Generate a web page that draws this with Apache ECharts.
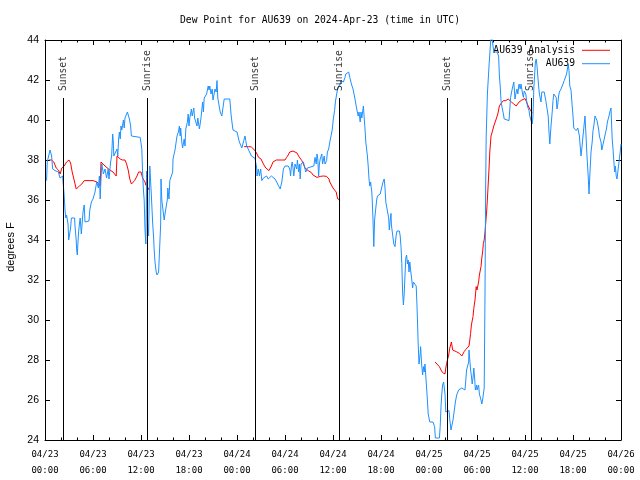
<!DOCTYPE html>
<html>
<head>
<meta charset="utf-8">
<script src="https://cdn.jsdelivr.net/npm/echarts@6/dist/echarts.min.js"></script>
<style>html,body{margin:0;padding:0;background:#fff}#c{width:640px;height:480px}</style>
</head>
<body>
<div id="c"></div>
<script>
// Hours since 2024-04-23 00:00 UTC
const blueHours = [0.2,0.28,0.42,0.63,0.75,0.83,0.96,1.25,1.67,1.88,2.08,2.2,2.38,2.5,2.6,2.7,2.88,2.96,3.1,3.2,3.3,3.7,3.75,3.9,3.96,4.04,4.1,4.2,4.3,4.4,4.54,4.6,4.75,4.9,5.0,5.2,5.5,5.6,5.8,6.0,6.25,6.46,6.67,6.8,6.9,7.0,7.1,7.3,7.5,7.7,7.9,8.0,8.2,8.33,8.46,8.54,8.6,8.75,9.0,9.1,9.2,9.3,9.4,9.5,9.6,9.8,9.9,10.0,10.2,10.3,10.46,10.55,10.7,10.8,11.0,11.9,12.0,12.1,12.2,12.3,12.4,12.5,12.6,12.66,12.7,12.8,12.95,13.1,13.3,13.45,13.58,13.65,13.75,13.9,14.0,14.2,14.4,14.46,14.5,14.6,14.9,15.0,15.1,15.2,15.3,15.35,15.5,15.6,15.8,15.96,16.0,16.25,16.4,16.5,16.67,16.8,16.9,16.96,17.1,17.2,17.4,17.5,17.6,17.8,17.9,18.0,18.1,18.3,18.4,18.6,18.7,18.9,19.0,19.1,19.3,19.4,19.5,19.7,19.8,19.9,20.1,20.2,20.4,20.5,20.6,20.75,20.9,21.0,21.1,21.25,21.4,21.5,21.6,21.75,21.9,22.1,22.3,22.4,23.1,23.25,23.4,23.5,23.7,24.0,24.2,24.3,24.5,24.6,24.8,25.0,25.1,25.2,25.4,25.6,25.8,26.0,26.25,26.46,26.5,26.67,26.8,26.96,27.1,27.3,27.5,27.7,27.9,28.1,28.3,28.5,28.75,28.96,29.2,29.4,29.6,29.8,30.0,30.2,30.4,30.6,30.7,30.8,30.9,31.0,31.1,31.25,31.46,31.55,31.7,31.8,31.9,32.0,32.1,32.3,32.5,32.6,32.8,32.9,33.6,33.75,33.9,34.0,34.1,34.2,34.3,34.4,34.6,34.7,34.9,35.0,35.2,35.3,35.46,35.6,35.75,35.9,36.04,36.2,36.3,36.46,36.6,36.7,36.9,37.0,37.1,37.3,37.5,37.6,37.8,37.96,38.1,38.3,38.5,38.75,38.9,39.04,39.15,39.25,39.4,39.5,39.6,39.8,39.9,40.0,40.1,40.2,40.3,40.4,40.5,40.6,40.7,40.8,40.85,40.9,41.0,41.1,41.2,41.3,41.46,41.55,41.6,41.9,42.25,42.4,42.5,42.6,42.75,42.96,43.04,43.15,43.25,43.3,43.46,43.6,43.75,43.9,44.0,44.3,44.4,44.5,44.6,44.7,44.8,44.9,45.0,45.1,45.2,45.3,45.4,45.5,45.6,45.7,45.85,45.95,46.05,46.2,46.4,46.5,46.65,46.75,46.9,46.95,47.08,47.2,47.3,47.4,47.5,47.6,47.8,47.9,48.1,48.5,48.7,48.8,49.3,49.4,49.5,49.6,49.7,49.83,49.9,50.0,50.1,50.5,50.6,50.75,50.9,51.0,51.2,51.3,51.46,51.55,51.7,51.9,52.1,52.3,52.5,52.6,52.7,52.8,52.96,53.0,53.1,53.2,53.3,53.4,53.5,53.6,53.7,53.8,53.96,54.0,54.2,54.3,54.5,54.6,54.7,54.8,54.9,55.0,55.08,55.15,55.3,55.5,55.7,55.8,56.0,56.1,56.5,56.7,56.8,56.9,57.0,57.1,57.3,57.4,57.5,58.0,58.1,58.2,58.4,58.5,58.6,58.75,58.9,59.0,59.1,59.25,59.4,59.5,59.7,59.8,59.9,60.1,60.2,60.3,60.5,60.6,60.75,60.9,61.0,61.1,61.2,61.3,61.4,61.5,61.6,61.7,61.8,62.0,62.1,62.2,62.4,62.5,62.6,62.75,62.9,63.0,63.1,63.25,63.4,63.5,63.6,63.75,63.9,64.0,64.1,64.2,64.3,64.5,64.6,64.75,64.9,65.0,65.2,65.3,65.4,65.5,65.6,65.75,65.9,66.0,66.1,66.2,66.3,66.4,66.6,66.8,66.9,67.0,67.1,67.25,67.4,67.5,67.6,67.75,67.9,68.0,68.1,68.25,68.4,68.5,68.6,68.75,68.9,69.0,69.2,69.3,69.5,69.6,69.75,69.9,70.0,70.2,70.3,70.5,70.6,70.75,70.8,70.9,71.0,71.2,71.3,71.4,71.5,71.6,71.75,71.9,72.0];
const blueValues = [36.97,37.9,38.0,38.5,38.55,38.2,37.55,37.47,37.4,37.1,37.05,37.2,36.3,35.5,35.1,35.25,34.8,34.0,34.1,34.6,35.1,35.1,34.7,34.0,33.5,33.25,33.75,34.4,34.8,35.1,34.3,34.6,35.4,35.75,34.9,34.95,34.95,35.5,35.9,36.05,36.4,36.9,36.6,37.2,36.05,37.05,37.8,37.3,37.55,37.1,37.55,37.05,37.9,38.2,39.3,38.9,38.2,38.3,38.55,38.2,39.05,39.4,39.05,39.7,39.5,40.0,39.6,40.1,40.05,40.4,40.47,40.05,39.7,39.2,39.13,39.13,39.2,38.55,37.4,36.5,36.0,34.5,33.8,35.6,37.45,35.0,34.2,37.7,36.2,34.9,34.1,33.5,32.9,32.4,32.25,32.4,32.4,34.8,37.05,36.0,35.0,35.3,35.4,35.8,36.05,36.6,36.05,36.97,36.97,37.4,38.05,38.5,38.55,39.2,39.4,39.7,39.2,39.6,38.9,38.6,39.05,38.7,39.55,39.9,40.3,39.7,40.1,40.55,40.2,40.6,40.1,40.2,39.7,40.1,39.55,39.5,40.1,40.9,40.4,41.1,41.0,41.3,41.7,41.5,41.7,41.3,41.55,41.0,41.1,41.55,41.4,41.97,41.1,41.05,40.4,40.2,40.2,41.05,41.05,40.3,39.8,39.5,39.5,39.4,39.05,38.9,38.8,38.6,38.55,39.2,38.97,38.7,38.55,38.5,38.2,38.13,38.08,37.6,37.2,37.55,37.2,37.55,36.97,37.1,37.05,37.2,37.05,37.1,37.2,37.1,37.05,36.9,36.7,36.55,36.9,37.55,37.7,37.6,37.7,37.55,37.2,37.7,37.9,37.6,37.2,37.8,37.55,38.0,37.4,37.8,37.05,37.8,37.7,37.9,37.55,37.4,37.6,37.7,37.7,38.13,37.8,38.3,38.05,37.2,37.8,38.05,38.3,37.8,38.2,37.8,37.97,38.4,38.55,38.9,39.2,39.5,40.05,40.47,40.9,41.3,41.6,41.7,41.8,41.97,42.05,41.9,42.13,42.3,42.4,42.4,42.13,41.8,41.55,41.05,40.7,40.4,40.2,40.4,39.9,40.4,40.1,40.7,40.1,39.55,38.9,38.55,38.2,37.7,37.05,36.7,36.9,36.55,36.4,36.05,35.0,33.67,35.0,35.4,36.0,36.2,36.3,36.3,36.9,37.05,36.6,35.9,35.8,35.1,34.5,35.0,35.33,34.75,34.25,33.8,33.67,34.25,34.45,34.45,34.2,33.67,32.83,31.4,30.75,31.3,32.25,33.1,33.25,32.8,33.0,32.4,32.9,32.5,32.0,31.6,31.9,31.8,31.7,30.7,28.8,27.8,28.33,28.67,27.8,27.25,27.67,27.4,27.8,27.2,26.0,25.3,24.9,24.9,24.67,24.1,24.1,24.67,25.67,26.3,26.75,26.9,27.0,26.3,25.4,25.47,25.0,24.5,24.6,25.0,25.6,25.9,26.25,26.3,26.5,26.5,26.6,26.55,26.5,27.0,27.5,27.45,27.9,28.5,28.0,27.5,27.2,26.8,27.1,27.6,27.1,26.5,26.75,26.5,26.75,26.3,26.0,25.8,26.0,26.3,26.6,31.3,36.5,39.2,41.3,42.7,43.9,44.3,44.3,43.4,43.4,43.2,42.2,41.7,40.97,40.7,40.3,40.05,39.97,39.97,40.55,41.13,41.55,41.5,41.9,41.05,41.4,41.55,41.3,41.8,41.55,41.8,41.3,41.13,41.45,41.3,40.97,40.7,40.47,40.2,39.97,39.8,40.2,41.55,41.55,42.9,43.05,42.7,42.2,41.7,41.3,40.9,41.4,41.5,41.4,41.5,40.97,40.9,40.2,39.4,38.8,39.7,40.4,40.97,41.3,41.4,41.13,40.55,40.8,41.2,41.4,41.55,41.6,41.8,41.97,42.05,42.3,42.55,42.8,42.47,41.7,41.5,40.7,40.2,39.6,39.55,39.6,39.47,39.6,39.2,38.7,38.2,38.55,39.2,39.8,40.2,39.4,38.2,37.2,36.3,37.2,38.4,38.9,39.47,39.7,40.2,40.3,39.97,39.55,39.2,38.9,38.5,38.55,39.05,39.1,39.6,39.9,40.2,40.4,40.6,40.05,39.05,38.55,37.4,37.7,37.2,37.05,37.4,37.9,38.4,38.8];

// Analysis series; null marks a gap between segments
const redHours = [0.5,0.83,1.1,1.4,1.67,1.9,2.1,2.4,2.7,3.0,3.2,3.4,3.7,3.9,4.0,4.3,4.6,4.9,6.0,6.5,6.7,6.9,7.0,7.2,7.5,7.7,8.1,8.3,8.5,8.7,8.9,9.0,9.2,9.4,9.7,10.0,10.2,10.4,10.6,10.8,11.0,11.2,11.5,11.7,11.9,12.0,12.2,12.4,12.5,12.6,12.8,12.9,13.0,
  18.0,
  24.9,25.4,25.8,26.0,26.25,26.5,26.7,27.0,27.3,27.6,28.0,28.3,28.5,28.9,29.6,30.0,30.2,30.4,30.6,30.8,31.0,31.25,31.5,31.7,31.9,32.1,32.3,32.5,32.7,32.9,33.1,33.3,33.5,33.75,34.0,34.4,34.8,35.0,35.2,35.5,35.6,35.8,36.0,36.2,36.4,36.5,36.6,36.8,36.9,
  42.0,
  48.75,49.0,49.3,49.5,49.7,49.9,50.0,50.1,50.2,50.3,50.46,50.6,50.7,50.8,50.96,51.2,51.4,51.6,51.8,52.0,52.1,52.2,52.4,52.6,52.8,53.0,53.1,53.2,53.3,53.5,53.6,53.75,53.9,54.0,54.1,54.2,54.3,54.5,54.6,54.7,54.8,54.9,55.0,55.2,55.3,55.5,55.6,55.75,55.9,56.1,56.4,56.6,56.8,57.0,57.3,57.6,57.9,58.1,58.3,58.6,58.9,59.0,59.25,59.6,59.8,60.0,60.2,60.4,60.6,60.75,60.9];
const redValues = [38.0,38.0,37.9,37.6,37.5,37.3,37.6,37.7,37.9,38.0,37.85,37.4,36.9,36.55,36.5,36.7,36.8,36.97,36.97,36.9,36.8,36.7,37.9,37.85,37.7,37.6,37.5,37.5,37.4,37.3,37.2,38.2,38.1,38.05,38.0,38.0,37.8,37.5,37.05,36.8,36.75,36.97,37.2,37.4,37.5,37.4,37.1,37.0,36.9,36.75,36.8,36.6,36.5,
  null,
  38.67,38.67,38.65,38.62,38.47,38.3,38.13,38.05,37.8,37.6,37.47,37.7,37.9,38.0,38.0,38.0,38.13,38.25,38.4,38.5,38.45,38.4,38.35,38.2,38.13,37.97,37.8,37.6,37.55,37.47,37.4,37.37,37.25,37.2,37.13,37.18,37.2,37.22,37.18,37.05,36.9,36.8,36.6,36.5,36.4,36.2,36.05,36.0,36.0,
  null,
  27.9,27.83,27.67,27.5,27.37,27.3,27.3,27.6,27.83,27.9,28.25,28.6,28.75,28.9,28.5,28.45,28.42,28.37,28.33,28.25,28.2,28.3,28.42,28.53,28.63,28.7,29.0,29.33,29.75,30.17,30.58,31.0,31.67,31.5,31.4,31.9,32.25,32.67,33.1,33.4,33.83,34.0,34.4,35.4,36.05,37.55,38.4,39.2,39.4,39.7,40.05,40.3,40.7,40.83,40.97,40.97,41.05,41.03,40.9,40.8,40.7,40.7,40.9,41.0,41.1,41.07,40.9,40.7,40.55,40.47,40.35];

const sunHours = [2.28, 12.78, 26.28, 36.78, 50.28, 60.72];
const sunLabels = ['Sunset', 'Sunrise', 'Sunset', 'Sunrise', 'Sunset', 'Sunrise'];

const yTicks = {min: 24, max: 44, interval: 2};
const xTicks = {min: 0, max: 72, interval: 6};

const MONO = 'DejaVu Sans Mono';
const SANS = 'Liberation Sans';
const lineTop = 41.1, labelBase = 41.4;

const blueData = blueHours.map((h, i) => [h, blueValues[i]]);
const redData = redHours.map((h, i) => [h, redValues[i] === null ? '-' : redValues[i]]);

function fmtX(v) {
  const d = 23 + Math.floor(v / 24);
  const hh = Math.round(v % 24);
  return '04/' + d + '\n' + String(hh).padStart(2, '0') + ':00';
}

const baseX = {
  type: 'value', min: xTicks.min, max: xTicks.max, interval: xTicks.interval,
  axisLine: {show: true, lineStyle: {color: '#000', width: 1}},
  axisTick: {show: true, inside: true, length: 5, lineStyle: {color: '#000'}},
  minorTick: {show: true, splitNumber: 3, length: 2.5, lineStyle: {color: '#000'}},
  splitLine: {show: false}
};
const baseY = {
  type: 'value', min: yTicks.min, max: yTicks.max, interval: yTicks.interval,
  axisLine: {show: true, onZero: false, lineStyle: {color: '#000', width: 1}},
  axisTick: {show: true, inside: true, length: 5, lineStyle: {color: '#000'}},
  splitLine: {show: false}
};

const legendBase = {
  orient: 'vertical', right: 30, padding: 0, align: 'right',
  icon: 'rect', itemWidth: 28, itemHeight: 1, itemGap: 0,
  textStyle: {fontFamily: MONO, fontSize: 9.7, color: '#000', padding: [0, 2, 0, 0]}
};

const chart = echarts.init(document.getElementById('c'), null, {renderer: 'canvas'});
chart.setOption({
  animation: false,
  backgroundColor: '#fff',
  title: {
    text: 'Dew Point for AU639 on 2024-Apr-23 (time in UTC)',
    left: 'center', top: 15, padding: 0,
    textStyle: {fontFamily: MONO, fontSize: 9.7, fontWeight: 'normal', color: '#000'}
  },
  grid: {left: 45, right: 19, top: 40, bottom: 40, containLabel: false, outerBoundsMode: 'none'},
  legend: [
    Object.assign({}, legendBase, {data: ['AU639 Analysis'], top: 45.3}),
    Object.assign({}, legendBase, {data: ['AU639'], top: 58.7})
  ],
  xAxis: [
    Object.assign({}, baseX, {
      position: 'bottom',
      axisLabel: {show: true, formatter: fmtX, fontFamily: MONO, fontSize: 9, color: '#000',
                  lineHeight: 16, margin: 7, showMinLabel: true, showMaxLabel: true}
    }),
    Object.assign({}, baseX, {position: 'top', axisLabel: {show: false}})
  ],
  yAxis: [
    Object.assign({}, baseY, {
      position: 'left',
      name: 'degrees F', nameLocation: 'middle', nameGap: 29, nameRotate: 90,
      nameTextStyle: {fontFamily: SANS, fontSize: 11, color: '#000', padding: [0, 14, 0, 0]},
      axisLabel: {show: true, fontFamily: SANS, fontSize: 10.5, color: '#000', margin: 6}
    }),
    Object.assign({}, baseY, {position: 'right', axisLabel: {show: false}})
  ],
  series: [
    {
      name: 'sun', type: 'scatter', symbolSize: 0, silent: true, z: 5,
      data: sunHours.map((h, i) => ({name: sunLabels[i], value: [h, labelBase]})),
      label: {show: true, position: 'inside', rotate: 90, align: 'left', verticalAlign: 'middle',
              offset: [1, 0], formatter: p => p.name,
              fontFamily: MONO, fontSize: 9.7, color: '#000'},
      markLine: {
        silent: true, symbol: 'none', animation: false,
        lineStyle: {color: '#000', width: 1, type: 'solid'},
        label: {show: false},
        data: sunHours.map(h => [{coord: [h, yTicks.min]}, {coord: [h, lineTop]}])
      }
    },
    {
      name: 'AU639 Analysis', type: 'line', data: redData, showSymbol: false, symbol: 'none',
      connectNulls: false, lineStyle: {color: '#ff0000', width: 1}, itemStyle: {color: '#ff0000'}, z: 3
    },
    {
      name: 'AU639', type: 'line', data: blueData, showSymbol: false, symbol: 'none',
      lineStyle: {color: '#1e90ff', width: 1}, itemStyle: {color: '#1e90ff'}, z: 4
    }
  ]
});
</script>
</body>
</html>
